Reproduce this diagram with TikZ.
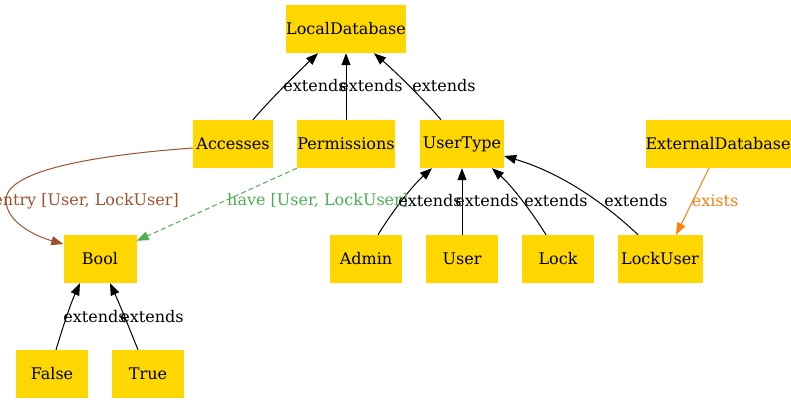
\documentclass[tikz,border=0pt]{standalone}
\usepackage{fontspec}
\setmainfont{DejaVu Serif}
\usetikzlibrary{arrows.meta}
\definecolor{gold}{HTML}{FFD700}
\definecolor{siennac}{HTML}{A0522D}
\definecolor{greenc}{HTML}{4CAF50}
\definecolor{orangec}{HTML}{FF7F0E}
\begin{document}
\begin{tikzpicture}[x=1pt,y=-1pt,
  box/.style={fill=gold,inner sep=0pt,minimum height=48pt,font=\fontsize{16}{19}\selectfont},
  lbl/.style={inner sep=0pt,font=\fontsize{16}{19}\selectfont},
  edge/.style={-{Triangle[length=12pt,width=9pt]},line width=1pt}
]
\useasboundingbox (0,0) rectangle (791,404);
% nodes
\node[box,minimum width=118pt] (ld) at (346,29) {LocalDatabase};
\node[box,minimum width=80pt] (acc) at (233,144) {Accesses};
\node[box,minimum width=98pt] (perm) at (346,144) {Permissions};
\node[box,minimum width=84pt] (ut) at (462,144) {UserType};
\node[box,minimum width=134pt] (ext) at (718,144) {ExternalDatabase};
\node[box,minimum width=73pt] (bool) at (100,259) {Bool};
\node[box,minimum width=72pt] (admin) at (366,259) {Admin};
\node[box,minimum width=72pt] (user) at (462,259) {User};
\node[box,minimum width=72pt] (lock) at (558,259) {Lock};
\node[box,minimum width=85pt] (lu) at (660,259) {LockUser};
\node[box,minimum width=72pt] (false) at (52,374) {False};
\node[box,minimum width=72pt] (true) at (148,374) {True};
% edges
\draw[edge] ([xshift=20pt]acc.north) .. controls (268,102) and (296,74) .. ([xshift=-28pt]ld.south);
\draw[edge] (perm.north) -- (ld.south);
\draw[edge] ([xshift=-21pt]ut.north) .. controls (426,102) and (398,74) .. ([xshift=28pt]ld.south);
\draw[edge,siennac] ([yshift=-4pt]acc.west) .. controls (110,154) and (6,168) .. (6,200)
   .. controls (6,222) and (35,236) .. ([yshift=15pt]bool.west);
\draw[edge,greenc,dash pattern=on 5pt off 3pt] (perm.south west) -- ([yshift=-6pt]bool.north east);
\draw[edge] ([xshift=12pt]admin.north) .. controls (392,212) and (412,186) .. ([xshift=-30pt]ut.south);
\draw[edge] (user.north) -- (ut.south);
\draw[edge] ([xshift=-12pt]lock.north) .. controls (532,212) and (512,186) .. ([xshift=30pt]ut.south);
\draw[edge] ([xshift=-22pt]lu.north) .. controls (610,208) and (565,174) .. ([yshift=-12pt]ut.east);
\draw[edge,orangec] ([xshift=-9pt]ext.south) -- ([xshift=16pt]lu.north);
\draw[edge] ([xshift=4pt]false.north) .. controls (62,330) and (70,305) .. ([xshift=-20pt]bool.south);
\draw[edge] ([xshift=-10pt]true.north) .. controls (130,330) and (120,305) .. ([xshift=10pt]bool.south);
% labels
\node[lbl] (l1) at (315,86) {extends};
\node[lbl] (l2) at (371,86) {extends};
\node[lbl] (l3) at (444,86) {extends};
\node[lbl,text=siennac,anchor=east] (l4) at (179,201) {entry [User, LockUser]};
\node[lbl,text=greenc,anchor=west] (l5) at (227,201) {have [User, LockUser]};
\node[lbl] (l6) at (430,201) {extends};
\node[lbl] (l7) at (487,201) {extends};
\node[lbl] (l8) at (556,201) {extends};
\node[lbl] (l9) at (636,201) {extends};
\node[lbl,text=orangec] (l10) at (715,201) {exists};
\node[lbl] (l11) at (95,317) {extends};
\node[lbl] (l12) at (152,317) {extends};
\end{tikzpicture}
\end{document}
